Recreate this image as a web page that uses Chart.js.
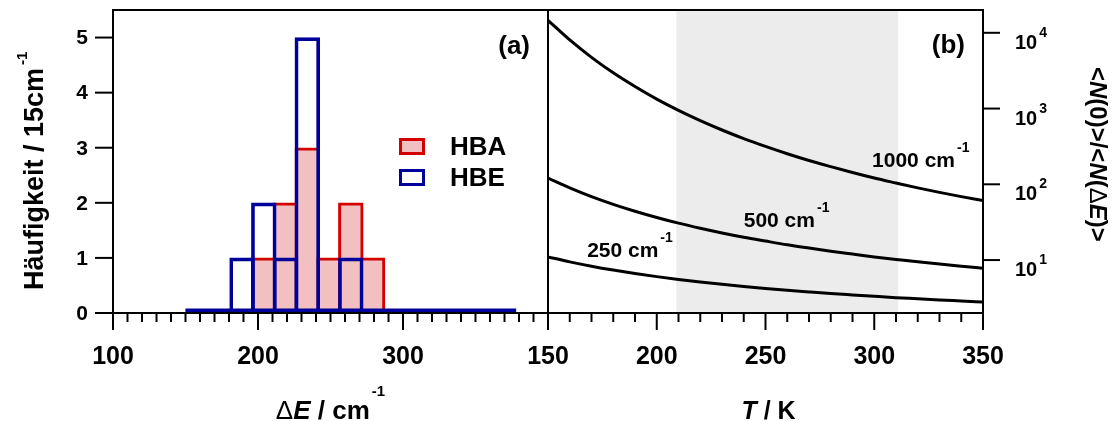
<!DOCTYPE html>
<html>
<head>
<meta charset="utf-8">
<script src="https://cdn.jsdelivr.net/npm/chart.js@4.4.1/dist/chart.umd.min.js"></script>
<style>
  html, body { margin: 0; padding: 0; background: #fff; }
  #wrap { position: relative; width: 1118px; height: 421px; overflow: hidden; background: #fff; }
  #wrap canvas { position: absolute; top: 0; }
  #histo { left: 0; }
  #ratio { left: 500px; }
</style>
</head>
<body>
<div id="wrap">
  <canvas id="histo" width="560" height="421"></canvas>
  <canvas id="ratio" width="618" height="421"></canvas>
</div>
<script>
// ---------- (a) histogram of energy gaps, 15 cm^-1 bins ----------
const binWidth = 15;
const binCenters = [159, 174, 189, 204, 219, 234, 249, 264, 279, 294, 309, 324, 339, 354, 369];
const hbaCounts  = [0, 0, 0, 1, 2, 3, 1, 2, 1, 0, 0, 0, 0, 0, 0];
const hbeCounts  = [0, 0, 1, 2, 1, 5, 0, 1, 0, 0, 0, 0, 0, 0, 0];
const energyTicks = [100, 200, 300];
const countTicks  = [0, 1, 2, 3, 4, 5];

// ---------- (b) population ratio vs temperature ----------
const temperatures = [150, 160, 170, 180, 190, 200, 210, 220, 230, 240, 250, 260, 270, 280, 290, 300, 310, 320, 330, 340, 350];
const ratio1000 = [14600, 8040, 4740, 2960, 1950, 1330, 945, 692, 521, 401, 316, 253, 206, 171, 143, 121, 104, 89.7, 78.3, 68.8, 61.0];
const ratio500  = [121, 89.7, 68.8, 54.4, 44.1, 36.5, 30.7, 26.3, 22.8, 20.0, 17.8, 15.9, 14.4, 13.1, 12.0, 11.0, 10.2, 9.47, 8.85, 8.30, 7.81];
const ratio250  = [11.0, 9.47, 8.30, 7.38, 6.64, 6.04, 5.54, 5.13, 4.78, 4.48, 4.22, 3.99, 3.79, 3.61, 3.46, 3.32, 3.19, 3.08, 2.97, 2.88, 2.79];
const tempTicks = [150, 200, 250, 300, 350];
const ratioDecades = [1, 2, 3, 4];
const shadedRange = [209, 311];
const curveLabels = [
  { text: '1000 cm', T: 299, v: 169 },
  { text: '500 cm',  T: 240, v: 27 },
  { text: '250 cm',  T: 168, v: 11 }
];

// ---------- styling ----------
const FAM = '"Liberation Sans", Arial, Helvetica, sans-serif';
const font = (size, style) => `${style || 'bold'} ${size}px ${FAM}`;
const RED = '#d40000', PINK = '#f2c0c0', BLUE = '#00009a';
const LINE_W = 2;
const AXIS_A = { min: 100, max: 400, ymax: 5.5 };
const PAD_A = { left: 113, top: 10, right: 12, bottom: 108 };
const PAD_B = { left: 48, top: 10, right: 135, bottom: 108 };
const CANVAS_A_W = 560;
const BAR_LINE = 3;
const BASE_LINE = 4.5;
const TITLE_BASELINE = 419;
const plotWidthA = CANVAS_A_W - PAD_A.left - PAD_A.right;
const barPx = binWidth / (AXIS_A.max - AXIS_A.min) * plotWidthA + BAR_LINE;

Chart.defaults.font.family = FAM;

// draws a sequence of text runs (different fonts / raised superscripts)
function drawRuns(ctx, x, y, runs, align) {
  ctx.save();
  ctx.textBaseline = 'alphabetic';
  ctx.textAlign = 'left';
  let total = 0;
  const widths = runs.map(r => {
    ctx.font = r.font;
    const w = ctx.measureText(r.text).width;
    total += w + (r.gap || 0);
    return w;
  });
  let cx = align === 'center' ? x - total / 2 : align === 'right' ? x - total : x;
  runs.forEach((r, i) => {
    cx += r.gap || 0;
    ctx.font = r.font;
    ctx.fillText(r.text, cx, y - (r.rise || 0));
    cx += widths[i];
  });
  ctx.restore();
}

function line(ctx, x1, y1, x2, y2) {
  ctx.beginPath();
  ctx.moveTo(x1, y1);
  ctx.lineTo(x2, y2);
  ctx.stroke();
}

// ---------- axes / decorations for (a) ----------
const histoDecor = {
  id: 'histoDecor',
  // the zero-count outline sits on top of the axis line
  beforeDatasetDraw(chart, args) {
    if (args.meta.type === 'line') {
      chart.ctx.save();
      chart.ctx.translate(0, -BASE_LINE / 2);
    }
  },
  afterDatasetDraw(chart, args) {
    if (args.meta.type === 'line') chart.ctx.restore();
  },
  afterDatasetsDraw(chart) {
    const { ctx, chartArea: a, scales: { x, y } } = chart;
    ctx.save();
    ctx.fillStyle = '#000';
    ctx.strokeStyle = '#000';
    ctx.lineWidth = LINE_W;
    ctx.strokeRect(a.left, a.top, a.right - a.left, a.bottom - a.top);

    // x ticks: minor every 10, major every 100
    for (let v = AXIS_A.min; v <= AXIS_A.max; v += 10) {
      const px = x.getPixelForValue(v);
      const len = v % 100 === 0 ? 17 : 9;
      line(ctx, px, a.bottom, px, a.bottom + len);
    }
    ctx.font = font(25);
    ctx.textAlign = 'center';
    ctx.textBaseline = 'middle';
    energyTicks.forEach(v => ctx.fillText(String(v), x.getPixelForValue(v), 357));

    // y ticks
    ctx.font = font(21);
    ctx.textAlign = 'right';
    countTicks.forEach(v => {
      const py = y.getPixelForValue(v);
      line(ctx, a.left - 18, py, a.left, py);
      ctx.fillText(String(v), a.left - 25, py + 1);
    });

    // x title
    drawRuns(ctx, (a.left + a.right) / 2, TITLE_BASELINE, [
      { text: '\u0394', font: font(26, 'normal') },
      { text: 'E', font: font(26, 'italic bold') },
      { text: ' / cm', font: font(26) },
      { text: '-1', font: font(15), rise: 23, gap: 2 }
    ], 'center');

    // y title (rotated)
    ctx.save();
    ctx.translate(43, 290);
    ctx.rotate(-Math.PI / 2);
    drawRuns(ctx, 0, 0, [
      { text: 'H\u00e4ufigkeit / 15cm', font: font(27) },
      { text: '-1', font: font(15), rise: 16, gap: 3 }
    ], 'left');
    ctx.restore();

    // panel tag
    ctx.font = font(26);
    ctx.textAlign = 'right';
    ctx.textBaseline = 'alphabetic';
    ctx.fillText('(a)', a.right - 18, 54);

    // legend
    const entries = [
      { label: 'HBA', stroke: RED, fill: PINK, yc: 146.5 },
      { label: 'HBE', stroke: BLUE, fill: '#fff', yc: 177.5 }
    ];
    entries.forEach(e => {
      ctx.fillStyle = e.fill;
      ctx.fillRect(400, e.yc - 7.5, 24, 15);
      ctx.strokeStyle = e.stroke;
      ctx.lineWidth = 3;
      ctx.strokeRect(400.5, e.yc - 7, 23, 14);
      ctx.fillStyle = '#000';
      ctx.font = font(26);
      ctx.textAlign = 'left';
      ctx.textBaseline = 'middle';
      ctx.fillText(e.label, 450, e.yc + 1);
    });
    ctx.restore();
  }
};

const toXY = (xs, ys) => xs.map((v, i) => ({ x: v, y: ys[i] }));

new Chart(document.getElementById('histo'), {
  type: 'bar',
  data: {
    datasets: [
      {
        label: 'HBA',
        data: toXY(binCenters, hbaCounts),
        backgroundColor: PINK,
        borderColor: RED,
        borderWidth: BAR_LINE,
        borderSkipped: 'start',
        barThickness: barPx,
        stack: 'hist',
        order: 3
      },
      {
        label: 'HBE',
        data: toXY(binCenters, hbeCounts),
        backgroundColor: 'rgba(0,0,0,0)',
        borderColor: BLUE,
        borderWidth: BAR_LINE,
        borderSkipped: 'start',
        barThickness: barPx,
        stack: 'hist',
        order: 2
      },
      {
        type: 'line',
        label: 'baseline',
        data: [
          { x: binCenters[0] - binWidth / 2, y: 0 },
          { x: binCenters[binCenters.length - 1] + binWidth / 2, y: 0 }
        ],
        borderColor: BLUE,
        borderWidth: BASE_LINE,
        borderCapStyle: 'square',
        pointRadius: 0,
        clip: false,
        order: 1
      }
    ]
  },
  options: {
    responsive: false,
    animation: false,
    events: [],
    layout: { padding: PAD_A },
    plugins: { legend: { display: false }, tooltip: { enabled: false } },
    scales: {
      x: { type: 'linear', min: AXIS_A.min, max: AXIS_A.max, offset: false, display: false },
      y: { type: 'linear', min: 0, max: AXIS_A.ymax, stacked: false, display: false }
    }
  },
  plugins: [histoDecor]
});

// ---------- axes / decorations for (b) ----------
const ratioDecor = {
  id: 'ratioDecor',
  beforeDatasetsDraw(chart) {
    const { ctx, chartArea: a, scales: { x } } = chart;
    ctx.save();
    ctx.fillStyle = '#ececec';
    const x0 = x.getPixelForValue(shadedRange[0]);
    const x1 = x.getPixelForValue(shadedRange[1]);
    ctx.fillRect(x0, a.top, x1 - x0, a.bottom - a.top);
    ctx.restore();
  },
  afterDatasetsDraw(chart) {
    const { ctx, chartArea: a, scales: { x, y } } = chart;
    ctx.save();
    ctx.fillStyle = '#000';
    ctx.strokeStyle = '#000';
    ctx.lineWidth = LINE_W;
    ctx.strokeRect(a.left, a.top, a.right - a.left, a.bottom - a.top);

    // x ticks: minor every 10 K, major every 50 K
    for (let v = 150; v <= 350; v += 10) {
      const px = x.getPixelForValue(v);
      const len = v % 50 === 0 ? 17 : 9;
      line(ctx, px, a.bottom, px, a.bottom + len);
    }
    ctx.font = font(25);
    ctx.textAlign = 'center';
    ctx.textBaseline = 'middle';
    tempTicks.forEach(v => ctx.fillText(String(v), x.getPixelForValue(v), 357));

    // right log axis
    ratioDecades.forEach(k => {
      const py = y.getPixelForValue(Math.pow(10, k));
      line(ctx, a.right, py, a.right + 17, py);
      drawRuns(ctx, a.right + 32, py + 16, [
        { text: '10', font: font(20) },
        { text: String(k), font: font(14), rise: 12, gap: 2 }
      ], 'left');
    });

    // x title
    drawRuns(ctx, (a.left + a.right) / 2 + 3, TITLE_BASELINE, [
      { text: 'T', font: font(25, 'italic bold') },
      { text: ' / K', font: font(25) }
    ], 'center');

    // right title (rotated, reading downwards)
    ctx.save();
    ctx.translate(a.right + 107, 67);
    ctx.rotate(Math.PI / 2);
    const b = font(24), bi = font(24, 'italic bold');
    drawRuns(ctx, 0, 0, [
      { text: '<', font: b },
      { text: 'N', font: bi },
      { text: '(0)>/<', font: b },
      { text: 'N', font: bi },
      { text: '(', font: b },
      { text: '\u0394', font: font(24, 'normal') },
      { text: 'E', font: bi },
      { text: ')>', font: b }
    ], 'left');
    ctx.restore();

    // curve labels
    curveLabels.forEach(l => {
      drawRuns(ctx, x.getPixelForValue(l.T), y.getPixelForValue(l.v), [
        { text: l.text, font: font(21) },
        { text: '-1', font: font(14), rise: 15, gap: 2 }
      ], 'left');
    });

    // panel tag
    ctx.font = font(26);
    ctx.textAlign = 'right';
    ctx.textBaseline = 'alphabetic';
    ctx.fillText('(b)', a.right - 18, 53);
    ctx.restore();
  }
};

const curveStyle = {
  borderColor: '#000',
  borderWidth: 3,
  pointRadius: 0,
  fill: false,
  cubicInterpolationMode: 'monotone'
};

new Chart(document.getElementById('ratio'), {
  type: 'line',
  data: {
    datasets: [
      Object.assign({ label: '1000 cm-1', data: toXY(temperatures, ratio1000) }, curveStyle),
      Object.assign({ label: '500 cm-1',  data: toXY(temperatures, ratio500) }, curveStyle),
      Object.assign({ label: '250 cm-1',  data: toXY(temperatures, ratio250) }, curveStyle)
    ]
  },
  options: {
    responsive: false,
    animation: false,
    events: [],
    layout: { padding: PAD_B },
    plugins: { legend: { display: false }, tooltip: { enabled: false } },
    scales: {
      x: { type: 'linear', min: 150, max: 350, display: false },
      y: { type: 'logarithmic', min: 2, max: 20000, display: false }
    }
  },
  plugins: [ratioDecor]
});
</script>
</body>
</html>
